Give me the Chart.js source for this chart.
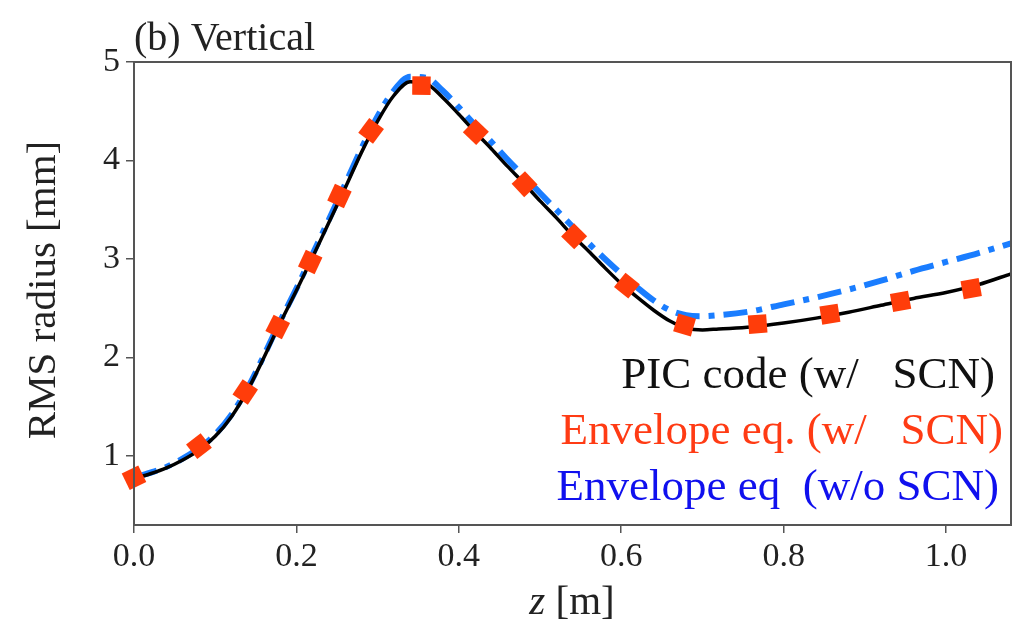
<!DOCTYPE html>
<html>
<head>
<meta charset="utf-8">
<script src="https://cdn.jsdelivr.net/npm/chart.js@4/dist/chart.umd.min.js"></script>
<style>
  html, body { margin: 0; padding: 0; background: #fff; }
  #wrap { width: 1024px; height: 635px; }
</style>
</head>
<body>
<div id="wrap"><canvas id="myChart" width="1024" height="635"></canvas></div>
<script>
// z positions [m] and RMS radius [mm]
const picZ = [0.00,0.02,0.04,0.06,0.08,0.10,0.12,0.14,0.16,0.18,0.20,0.22,0.24,0.26,0.28,0.30,0.32,0.34,0.36,0.38,0.40,0.42,0.44,0.46,0.48,0.50,0.52,0.54,0.56,0.58,0.60,0.62,0.64,0.66,0.68,0.70,0.72,0.76,0.80,0.84,0.88,0.92,0.96,1.00,1.04,1.08];
const picR = [0.77,0.82,0.88,0.96,1.06,1.20,1.40,1.67,2.00,2.35,2.68,3.02,3.37,3.72,4.08,4.40,4.66,4.80,4.78,4.64,4.47,4.29,4.12,3.94,3.77,3.59,3.42,3.24,3.08,2.91,2.75,2.61,2.48,2.37,2.30,2.28,2.29,2.31,2.35,2.40,2.46,2.53,2.60,2.66,2.74,2.85];

const noScnZ = [0.00,0.04,0.08,0.10,0.12,0.14,0.16,0.18,0.20,0.22,0.24,0.26,0.28,0.30,0.32,0.34,0.36,0.38,0.40,0.42,0.44,0.46,0.48,0.50,0.52,0.54,0.56,0.58,0.60,0.62,0.64,0.66,0.68,0.70,0.72,0.76,0.80,0.84,0.88,0.92,0.96,1.00,1.04,1.08];
const noScnR = [0.78,0.89,1.08,1.22,1.42,1.69,2.02,2.37,2.70,3.05,3.40,3.76,4.12,4.45,4.71,4.85,4.84,4.71,4.54,4.36,4.19,4.01,3.84,3.67,3.50,3.33,3.16,3.00,2.85,2.71,2.58,2.48,2.43,2.42,2.43,2.47,2.54,2.61,2.69,2.78,2.88,2.97,3.06,3.16];

const envZ = [0.000,0.080,0.137,0.177,0.217,0.253,0.292,0.354,0.421,0.481,0.542,0.607,0.678,0.768,0.857,0.944,1.031];
const envR = [0.78,1.10,1.65,2.31,2.97,3.64,4.30,4.76,4.29,3.76,3.23,2.73,2.33,2.34,2.44,2.57,2.70];

const xTicks = [0.0, 0.2, 0.4, 0.6, 0.8, 1.0];
const yTicks = [1, 2, 3, 4, 5];

const legendItems = [
  { text: 'PIC code (w/   SCN)', color: '#111111', right: 995, y: 376 },
  { text: 'Envelope eq. (w/   SCN)', color: '#ff3b14', right: 1003, y: 432 },
  { text: 'Envelope eq  (w/o SCN)', color: '#1010ee', right: 999, y: 488 }
];

const serif = "'Liberation Serif', 'DejaVu Serif', serif";

function pts(xs, ys) {
  return xs.map((x, i) => ({ x: x, y: ys[i] }));
}

// rotate each square along the curve, like the dotted line in the figure
function markerAngle(c) {
  const d = c.dataset.data;
  const i = c.dataIndex;
  if (!d || !d.length) return 0;
  const a = d[Math.max(i - 1, 0)];
  const b = d[Math.min(i + 1, d.length - 1)];
  const sx = c.chart.scales.x, sy = c.chart.scales.y;
  const dx = sx.getPixelForValue(b.x) - sx.getPixelForValue(a.x);
  const dy = sy.getPixelForValue(b.y) - sy.getPixelForValue(a.y);
  return Math.atan2(dy, dx) * 180 / Math.PI;
}

const textPlugin = {
  id: 'textPlugin',
  afterDraw(chart) {
    const ctx = chart.ctx;
    const area = chart.chartArea;
    ctx.save();
    // frame
    ctx.strokeStyle = '#555';
    ctx.lineWidth = 2;
    ctx.strokeRect(area.left, area.top, area.right - area.left, area.bottom - area.top);

    ctx.fillStyle = '#222';
    ctx.textBaseline = 'alphabetic';
    ctx.textAlign = 'left';
    ctx.font = '40px ' + serif;
    ctx.fillText('(b) Vertical', 134, 50);

    // x label with italic z
    ctx.font = 'italic 41px ' + serif;
    const zw = ctx.measureText('z').width;
    ctx.font = '41px ' + serif;
    const rest = ' [m]';
    const rw = ctx.measureText(rest).width;
    let x0 = 572 - (zw + rw) / 2;
    ctx.font = 'italic 41px ' + serif;
    ctx.fillText('z', x0, 614);
    ctx.font = '41px ' + serif;
    ctx.fillText(rest, x0 + zw, 614);

    // y label
    ctx.save();
    ctx.translate(55, 290);
    ctx.rotate(-Math.PI / 2);
    ctx.textAlign = 'center';
    ctx.fillText('RMS radius [mm]', 0, 0);
    ctx.restore();

    // legend text
    ctx.font = '45px ' + serif;
    ctx.textAlign = 'right';
    ctx.textBaseline = 'middle';
    legendItems.forEach(it => {
      ctx.fillStyle = it.color;
      ctx.fillText(it.text, it.right, it.y);
    });
    ctx.restore();
  }
};

const config = {
  type: 'line',
  data: {
    datasets: [
      {
        label: 'Envelope eq. (w/ SCN)',
        data: pts(envZ, envR),
        showLine: false,
        pointStyle: 'rect',
        pointRadius: 13,
        pointRotation: markerAngle,
        backgroundColor: '#ff3d0a',
        pointBorderWidth: 0,
        borderColor: '#ff3d0a',
        clip: false
      },
      {
        label: 'PIC code (w/ SCN)',
        data: pts(picZ, picR),
        borderColor: '#000',
        borderWidth: 3.5,
        pointRadius: 0,
        cubicInterpolationMode: 'monotone'
      },
      {
        label: 'Envelope eq (w/o SCN)',
        data: pts(noScnZ, noScnR),
        borderColor: '#1a7dff',
        borderWidth: 6,
        borderDash: [24, 9, 6, 9],
        pointRadius: 0,
        cubicInterpolationMode: 'monotone'
      }
    ]
  },
  options: {
    responsive: false,
    animation: false,
    events: [],
    layout: { padding: { left: 0, top: 62, right: 12, bottom: 0 } },
    plugins: {
      legend: { display: false },
      tooltip: { enabled: false }
    },
    scales: {
      x: {
        type: 'linear',
        min: 0,
        max: 1.08,
        afterFit: s => { s.height = 110; },
        afterBuildTicks: s => { s.ticks = xTicks.map(v => ({ value: v })); },
        grid: { drawOnChartArea: false, drawTicks: true, tickLength: 8, color: '#555', lineWidth: 1.5 },
        border: { color: '#555', width: 2 },
        ticks: {
          color: '#222',
          padding: 4,
          maxRotation: 0,
          font: { family: serif, size: 34 },
          callback: v => Number(v).toFixed(1)
        }
      },
      y: {
        type: 'linear',
        min: 0.3,
        max: 5,
        afterFit: s => { s.width = 134; },
        afterBuildTicks: s => { s.ticks = yTicks.map(v => ({ value: v })); },
        grid: { drawOnChartArea: false, drawTicks: true, tickLength: 8, color: '#555', lineWidth: 1.5 },
        border: { color: '#555', width: 2 },
        ticks: {
          color: '#222',
          padding: 6,
          font: { family: serif, size: 34 },
          callback: v => String(v)
        }
      }
    }
  },
  plugins: [textPlugin]
};

const ctx = document.getElementById('myChart').getContext('2d');
const myChart = new Chart(ctx, config);
</script>
</body>
</html>
